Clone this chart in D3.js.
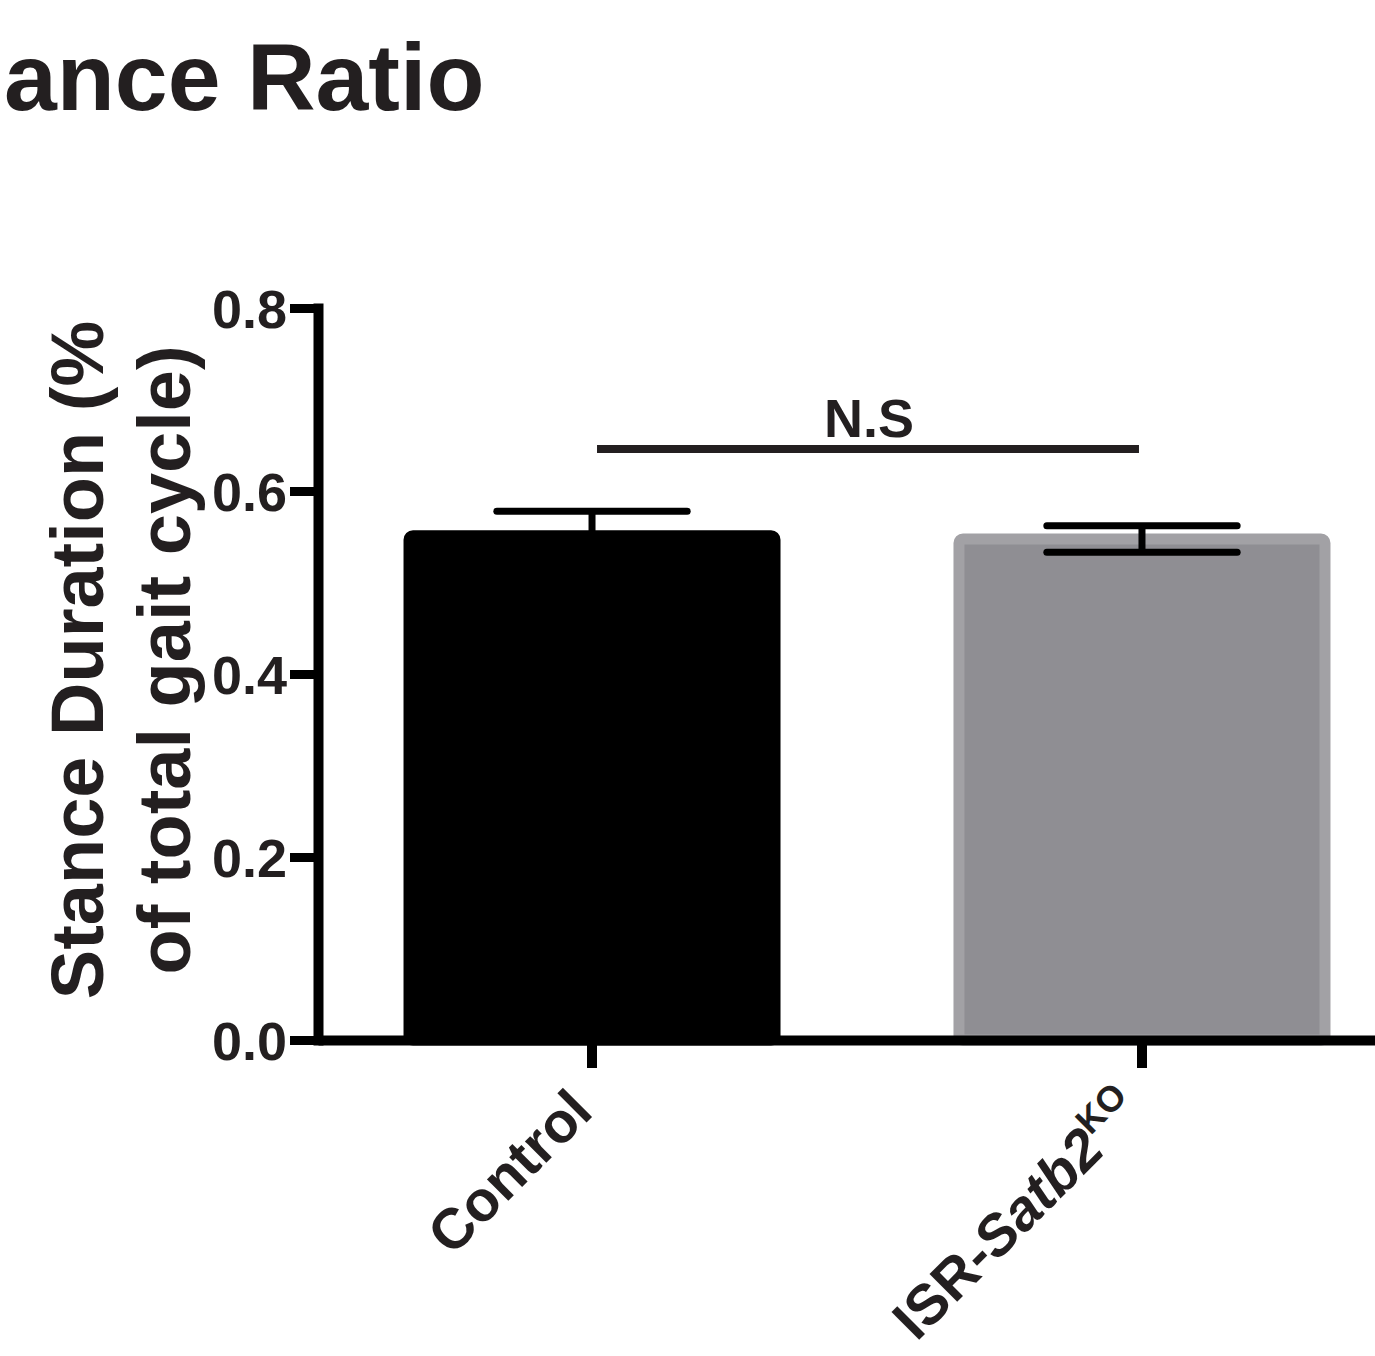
<!DOCTYPE html>
<html>
<head>
<meta charset="utf-8">
<script src="https://cdn.jsdelivr.net/npm/d3@7"></script>
<style>
  html, body { margin: 0; padding: 0; background: #fff; }
  svg { display: block; }
  text { font-family: "Liberation Sans", Arial, Helvetica, sans-serif; font-weight: bold; fill: #231f20; }
</style>
</head>
<body>
<svg id="chart" width="1375" height="1356"></svg>
<script>
// ---- data ----
const categories = ["Control", "ISR-Satb2KO"];
const means = [0.551, 0.5475];
const sems = [0.027, 0.0145];
const yTicks = [0.0, 0.2, 0.4, 0.6, 0.8];
const sigLabel = "N.S";
const sigValue = 0.646;
const titleText = "ance Ratio";
const yLabelLines = ["Stance Duration (%", "of total gait cycle)"];

// ---- styles ----
const fills = ["#000000", "#8f8e93"];
const strokes = ["#000000", "#a2a1a5"];
const textColor = "#231f20";

const svg = d3.select("#chart");

const y = d3.scaleLinear().domain([0, 0.8]).range([1040, 308]);
const x = d3.scaleBand().domain(categories).range([318, 1416])
  .paddingInner(0.3345).paddingOuter(0.1655);

// title
svg.append("text").attr("x", 4).attr("y", 110)
  .attr("font-size", 95).text(titleText);

// bars
const bars = svg.append("g");
categories.forEach((c, i) => {
  bars.append("rect")
    .attr("x", x(c)).attr("width", x.bandwidth())
    .attr("y", y(means[i])).attr("height", y(0) - y(means[i]))
    .attr("rx", 4)
    .attr("fill", fills[i]).attr("stroke", strokes[i]).attr("stroke-width", 11);
});

// error bars
const eb = svg.append("g").attr("stroke", "#000").attr("stroke-width", 7)
  .attr("stroke-linecap", "round");
categories.forEach((c, i) => {
  const cx = x(c) + x.bandwidth() / 2;
  const half = x.bandwidth() * 0.26;
  const hi = y(means[i] + sems[i]);
  const lo = y(means[i] - sems[i]);
  eb.append("line").attr("x1", cx).attr("x2", cx).attr("y1", hi).attr("y2", lo).attr("stroke-linecap", "butt");
  eb.append("line").attr("x1", cx - half).attr("x2", cx + half).attr("y1", hi).attr("y2", hi);
  eb.append("line").attr("x1", cx - half).attr("x2", cx + half).attr("y1", lo).attr("y2", lo);
});

// y axis
const yAxis = svg.append("g").attr("transform", "translate(318,0)")
  .call(d3.axisLeft(y).tickValues(yTicks).tickFormat(d3.format(".1f"))
    .tickSize(28).tickSizeOuter(0).tickPadding(3));
yAxis.select(".domain").attr("stroke", "#000").attr("stroke-width", 10)
  .attr("stroke-linecap", "square");
yAxis.selectAll(".tick line").attr("stroke", "#000").attr("stroke-width", 9);
yAxis.selectAll(".tick text").attr("font-size", 54).attr("fill", textColor)
  .attr("font-family", "Liberation Sans, Arial, sans-serif").attr("font-weight", "bold")
  .attr("dy", "0.36em");

// x axis
const xAxis = svg.append("g").attr("transform", "translate(0,1040)")
  .call(d3.axisBottom(x).tickSize(28).tickSizeOuter(0).tickFormat(""));
xAxis.select(".domain").attr("stroke", "#000").attr("stroke-width", 10);
xAxis.selectAll(".tick line").attr("stroke", "#000").attr("stroke-width", 10);

// x labels
categories.forEach((c, i) => {
  const cx = x(c) + x.bandwidth() / 2;
  const t = svg.append("text")
    .attr("transform", `translate(${cx + 3},1114) rotate(-45)`)
    .attr("text-anchor", "end").attr("font-size", 57);
  if (c === "Control") {
    t.text(c);
  } else {
    t.append("tspan").text("ISR-");
    t.append("tspan").attr("font-style", "italic").text("Satb2");
    t.append("tspan").attr("font-size", 36).attr("dy", -23).text("KO");
  }
});

// y label
svg.append("text").attr("transform", "translate(103,660) rotate(-90)")
  .attr("text-anchor", "middle").attr("font-size", 74).text(yLabelLines[0]);
svg.append("text").attr("transform", "translate(190,660) rotate(-90)")
  .attr("text-anchor", "middle").attr("font-size", 74).text(yLabelLines[1]);

// significance
const c0 = x(categories[0]) + x.bandwidth() / 2;
const c1 = x(categories[1]) + x.bandwidth() / 2;
svg.append("line").attr("x1", c0 + 5).attr("x2", c1 - 3)
  .attr("y1", y(sigValue)).attr("y2", y(sigValue))
  .attr("stroke", "#231f20").attr("stroke-width", 8);
svg.append("text").attr("x", (c0 + c1) / 2 + 2).attr("y", y(sigValue) - 12)
  .attr("text-anchor", "middle").attr("font-size", 54).text(sigLabel);
</script>
</body>
</html>
